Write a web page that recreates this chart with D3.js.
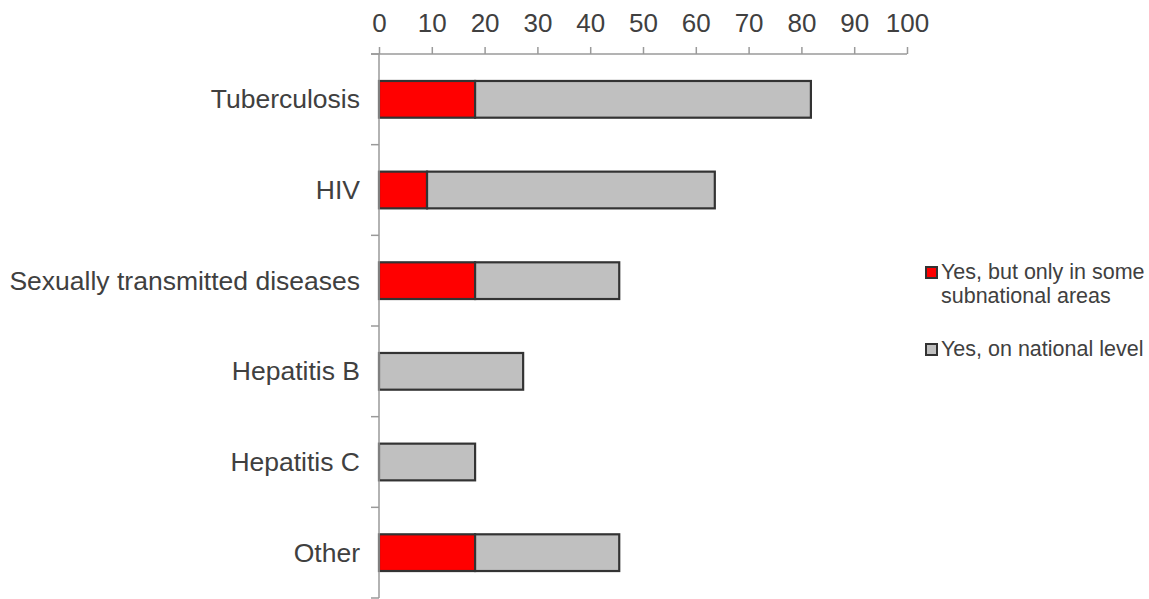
<!DOCTYPE html>
<html>
<head>
<meta charset="utf-8">
<script src="https://cdn.jsdelivr.net/npm/d3@7"></script>
<style>
  html, body { margin: 0; padding: 0; background: #fff; }
  svg { display: block; font-family: "Liberation Sans", Arial, sans-serif; }
</style>
</head>
<body>
<svg id="chart" width="1149" height="599"></svg>
<script>
// Diseases surveyed (top to bottom)
const categories = ["Tuberculosis", "HIV", "Sexually transmitted diseases", "Hepatitis B", "Hepatitis C", "Other"];
// Share of countries (%) with the measure only in some subnational areas
const subnational = [18.2, 9.1, 18.2, 0, 0, 18.2];
// Share of countries (%) with the measure at national level
const national = [63.6, 54.5, 27.3, 27.3, 18.2, 27.3];
const xTicks = [0, 10, 20, 30, 40, 50, 60, 70, 80, 90, 100];
const seriesNames = ["Yes, but only in some\nsubnational areas", "Yes, on national level"];
const seriesColors = ["#ff0000", "#c0c0c0"];

const svg = d3.select("#chart");
const plotLeft = 379, plotRight = 907, plotTop = 54, plotBottom = 598;

const x = d3.scaleLinear().domain([0, 100]).range([plotLeft, plotRight]);
const y = d3.scaleBand().domain(categories).range([plotTop, plotBottom]).paddingInner(0.595).paddingOuter(0.2975);

const textColor = "#404040";
const axisColor = "#9a9a9a";

// Stacked data
const rows = categories.map((c, i) => ({ cat: c, sub: subnational[i], nat: national[i] }));
const stack = d3.stack().keys(["sub", "nat"])(rows);

stack.forEach((layer, k) => {
  svg.append("g").selectAll("rect")
    .data(layer.filter(d => d[1] - d[0] > 0))
    .join("rect")
    .attr("x", d => x(d[0]))
    .attr("y", d => y(d.data.cat))
    .attr("width", d => x(d[1]) - x(d[0]))
    .attr("height", y.bandwidth())
    .attr("fill", seriesColors[k])
    .attr("stroke", "#333")
    .attr("stroke-width", 2.2);
});

// Top axis
const xAxis = svg.append("g").attr("transform", `translate(0,${plotTop})`)
  .call(d3.axisTop(x).tickValues(xTicks).tickSize(7).tickPadding(15).tickSizeOuter(0));
xAxis.select(".domain").attr("stroke", axisColor).attr("stroke-width", 1.5)
  .attr("d", `M${plotLeft - 8},0H${plotRight}`);
xAxis.selectAll(".tick line").attr("stroke", axisColor).attr("stroke-width", 1.5);
xAxis.selectAll(".tick text").attr("fill", textColor).attr("font-size", 26)
  .attr("font-family", "'Liberation Sans', Arial, sans-serif");

// Left axis with ticks at band boundaries
const yAxisG = svg.append("g");
yAxisG.append("line").attr("x1", plotLeft).attr("x2", plotLeft).attr("y1", plotTop).attr("y2", plotBottom)
  .attr("stroke", axisColor).attr("stroke-width", 1.5);
const bounds = d3.range(categories.length + 1).map(i => plotTop + i * (plotBottom - plotTop) / categories.length);
yAxisG.selectAll("line.tk").data(bounds).join("line").attr("class", "tk")
  .attr("x1", plotLeft - 8).attr("x2", plotLeft).attr("y1", d => d).attr("y2", d => d)
  .attr("stroke", axisColor).attr("stroke-width", 1.5);
yAxisG.selectAll("text").data(categories).join("text")
  .attr("x", plotLeft - 19)
  .attr("y", d => y(d) + y.bandwidth() / 2)
  .attr("dy", "0.34em")
  .attr("text-anchor", "end")
  .attr("font-size", 26.5)
  .attr("fill", textColor)
  .text(d => d);

// Legend
const legend = svg.append("g");
const legendY = [267, 344];
seriesNames.forEach((name, i) => {
  legend.append("rect").attr("x", 926).attr("y", legendY[i]).attr("width", 11).attr("height", 11)
    .attr("fill", seriesColors[i]).attr("stroke", "#333").attr("stroke-width", 2);
  const t = legend.append("text").attr("x", 941).attr("y", legendY[i] + 12)
    .attr("font-size", 21.5).attr("fill", textColor);
  name.split("\n").forEach((line, j) => {
    t.append("tspan").attr("x", 941).attr("dy", j === 0 ? 0 : 24).text(line);
  });
});
</script>
</body>
</html>
